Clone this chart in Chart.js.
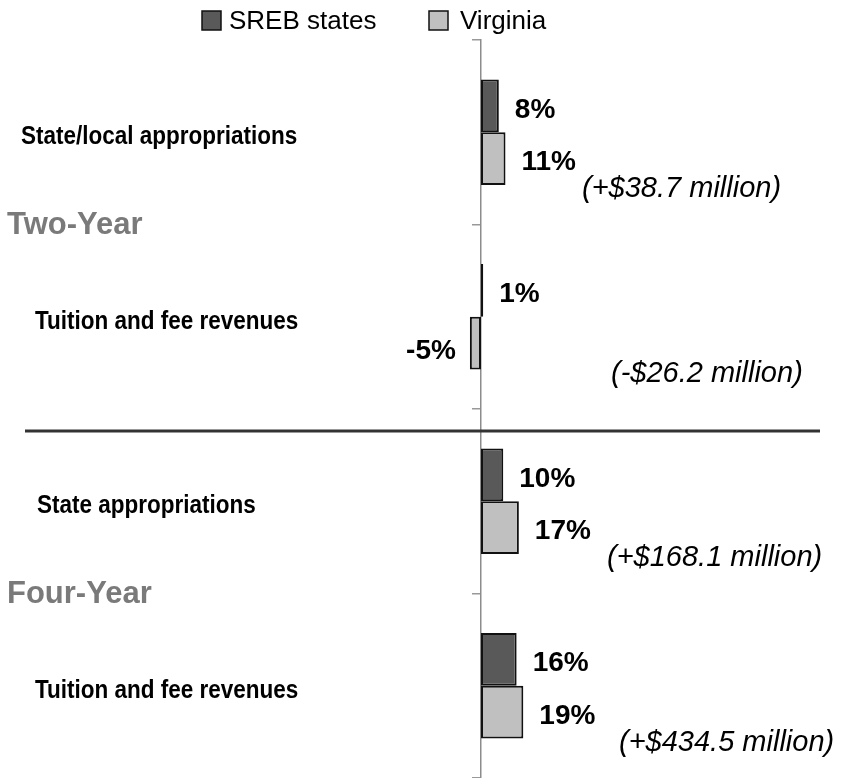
<!DOCTYPE html>
<html>
<head>
<meta charset="utf-8">
<script src="https://cdn.jsdelivr.net/npm/chart.js@4/dist/chart.umd.min.js"></script>
<style>
  html, body { margin: 0; padding: 0; background: #fff; }
  canvas { display: block; }
</style>
</head>
<body>
<canvas id="revenueChart" width="844" height="778"></canvas>
<script>
// Percent change in revenue sources, SREB states vs Virginia
const categories = ['State/local appropriations', 'Tuition and fee revenues', 'State appropriations', 'Tuition and fee revenues'];
const sectorGroups = ['Two-Year', 'Four-Year'];
const seriesNames = ['SREB states', 'Virginia'];
const srebChange = [8, 1, 10, 16];
const virginiaChange = [11, -5, 17, 19];
const virginiaDollarNotes = ['(+$38.7 million)', '(-$26.2 million)', '(+$168.1 million)', '(+$434.5 million)'];

const FONT = "'Liberation Sans', Arial, sans-serif";
const colors = {
    sreb: '#595959',
    virginia: '#c0c0c0',
    border: '#111111',
    group: '#7a7a7a'
};

const annotations = {
    id: 'annotations',
    afterDatasetsDraw(chart) {
        const ctx = chart.ctx;
        const yScale = chart.scales.y;
        ctx.save();

        // value labels next to each bar
        ctx.font = 'bold 28px ' + FONT;
        ctx.fillStyle = '#000';
        ctx.textBaseline = 'middle';
        chart.data.datasets.forEach((ds, d) => {
            chart.getDatasetMeta(d).data.forEach((bar, i) => {
                const v = ds.data[i];
                if (v < 0) {
                    ctx.textAlign = 'right';
                    ctx.fillText(v + '%', bar.x - 14, bar.y + 8);
                } else {
                    ctx.textAlign = 'left';
                    ctx.fillText(v + '%', bar.x + 16, bar.y + 4);
                }
            });
        });

        // dollar change notes under the Virginia bars
        const noteX = [582, 611, 607, 619];
        ctx.font = 'italic 29px ' + FONT;
        ctx.textAlign = 'left';
        chart.getDatasetMeta(1).data.forEach((bar, i) => {
            ctx.fillText(virginiaDollarNotes[i], noteX[i], bar.y + bar.height / 2 + 4);
        });

        // category labels (condensed bold)
        const catX = [21, 35, 37, 35];
        ctx.font = 'bold 25px ' + FONT;
        categories.forEach((c, i) => {
            ctx.save();
            ctx.translate(catX[i], yScale.getPixelForValue(i) + 5);
            ctx.scale(0.9, 1);
            ctx.fillText(c, 0, 0);
            ctx.restore();
        });

        // sector group labels
        ctx.font = 'bold 31px ' + FONT;
        ctx.fillStyle = colors.group;
        ctx.textBaseline = 'alphabetic';
        sectorGroups.forEach((g, k) => {
            const y = (yScale.getPixelForValue(k * 2) + yScale.getPixelForValue(k * 2 + 1)) / 2;
            ctx.fillText(g, 7, y + 9);
        });

        // separator between two-year and four-year
        ctx.strokeStyle = '#333';
        ctx.lineWidth = 3;
        ctx.beginPath();
        ctx.moveTo(25, 431);
        ctx.lineTo(820, 431);
        ctx.stroke();

        // legend
        const legendPos = [{box: 202, text: 229}, {box: 429, text: 460}];
        ctx.font = '26px ' + FONT;
        ctx.textBaseline = 'middle';
        chart.data.datasets.forEach((ds, d) => {
            const p = legendPos[d];
            ctx.fillStyle = ds.backgroundColor;
            ctx.fillRect(p.box, 11, 19, 19);
            ctx.strokeStyle = colors.border;
            ctx.lineWidth = 1.5;
            ctx.strokeRect(p.box, 11, 19, 19);
            ctx.fillStyle = '#000';
            ctx.fillText(ds.label, p.text, 22);
        });

        ctx.restore();
    }
};

new Chart(document.getElementById('revenueChart').getContext('2d'), {
    type: 'bar',
    data: {
        labels: categories,
        datasets: [{
            label: seriesNames[0],
            data: srebChange,
            backgroundColor: colors.sreb,
            borderColor: colors.border,
            borderWidth: 2,
            borderSkipped: false
        }, {
            label: seriesNames[1],
            data: virginiaChange,
            backgroundColor: colors.virginia,
            borderColor: colors.border,
            borderWidth: 2,
            borderSkipped: false
        }]
    },
    options: {
        indexAxis: 'y',
        responsive: false,
        animation: false,
        layout: { padding: { top: 40, left: 0, right: 0, bottom: 0 } },
        datasets: {
            bar: { categoryPercentage: 0.572, barPercentage: 1.0 }
        },
        scales: {
            x: {
                display: false,
                min: -216,
                max: 163
            },
            y: {
                position: { x: 0 },
                grid: {
                    offset: true,
                    drawOnChartArea: false,
                    drawTicks: true,
                    tickLength: 8,
                    color: '#999',
                    lineWidth: 1.5
                },
                border: { color: '#8c8c8c', width: 1.5 },
                ticks: { display: false }
            }
        },
        plugins: {
            legend: { display: false },
            tooltip: { enabled: false }
        }
    },
    plugins: [annotations]
});
</script>
</body>
</html>
